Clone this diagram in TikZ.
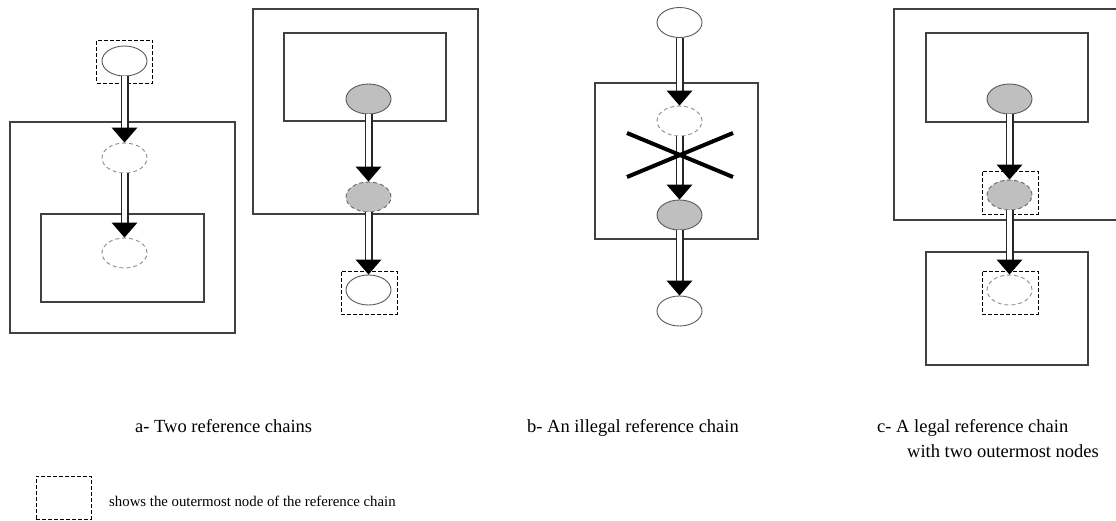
\documentclass[tikz,border=0pt]{standalone}
\usepackage{fontspec}
\setmainfont{Liberation Serif}
\usetikzlibrary{shapes.geometric,decorations.markings}

\begin{document}
\begin{tikzpicture}[x=1pt,y=-1pt,
  every node/.style={inner sep=0pt},
  frame/.style={draw=black!75, line width=1.3pt},
  obj/.style={ellipse, draw=black!65, line width=0.9pt, fill=white,
    minimum width=45pt, minimum height=30pt},
  ghost/.style={obj, draw=black!45, dash pattern=on 4pt off 3pt},
  shared/.style={obj, fill=black!25},
  sharedghost/.style={shared, draw=black!60, dash pattern=on 4pt off 3pt},
  outer/.style={rectangle, draw=black, line width=0.9pt, dash pattern=on 4pt off 2pt,
    minimum width=56pt, minimum height=43pt},
  ref/.style={draw=black!85, line width=1.1pt, double distance=5.8pt, shorten >=10pt,
    postaction={decorate},
    decoration={markings, mark=at position 1 with
      {\fill[black] (0,0) -- (-15pt,13pt) -- (-15pt,-13pt) -- cycle;}}},
  captext/.style={anchor=base west, font=\fontsize{18.5}{22}\selectfont},
  keytext/.style={anchor=base west, font=\fontsize{14.8}{18}\selectfont}
]
\useasboundingbox (0,0) rectangle (1116,520);

% ---------- a- two reference chains ----------
% first chain
\draw[frame] (10,122) rectangle (235,333);
\draw[frame] (41,214) rectangle (204,302);
\node[outer] (oa1) at (124.5,61.5) {};
\node[obj]   (a1) at (124.5,61) {};
\node[ghost] (a2) at (124.5,158) {};
\node[ghost] (a3) at (124.5,253) {};
\draw[ref] (a1.south) -- (a2.north);
\draw[ref] (a2.south) -- (a3.north);

% second chain
\draw[frame] (253,9) rectangle (478,214);
\draw[frame] (284,33) rectangle (446,121);
\node[shared]      (b1) at (368.5,99) {};
\node[sharedghost] (b2) at (368.5,197) {};
\node[outer]       (ob3) at (369,292.5) {};
\node[obj]         (b3) at (368.5,290) {};
\draw[ref] (b1.south) -- (b2.north);
\draw[ref] (b2.south) -- (b3.north);

% ---------- b- an illegal reference chain ----------
\draw[frame] (595,83) rectangle (758,239);
\node[obj]    (c1) at (679.5,22.5) {};
\node[ghost]  (c2) at (679.5,121) {};
\node[shared] (c3) at (679.5,215) {};
\node[obj]    (c4) at (679.5,311) {};
\draw[ref] (c1.south) -- (c2.north);
\draw[ref] (c2.south) -- (c3.north);
\draw[ref] (c3.south) -- (c4.north);
\draw[line width=4pt] (627,133) -- (733,177);
\draw[line width=4pt] (627,177) -- (733,133);

% ---------- c- a legal reference chain ----------
\draw[frame] (1117,9) -- (894,9) -- (894,220) -- (1117,220);
\draw[frame] (926,33) rectangle (1088,122);
\draw[frame] (926,252) rectangle (1088,365);
\node[shared]      (d1) at (1009.5,99) {};
\node[outer]       (od2) at (1010,192.5) {};
\node[sharedghost] (d2) at (1009.5,195) {};
\node[outer]       (od3) at (1010,292.5) {};
\node[ghost]       (d3) at (1009.5,290) {};
\draw[ref] (d1.south) -- (d2.north);
\draw[ref] (d2.south) -- (d3.north);

% ---------- captions ----------
\node[captext] (capa) at (135,432) {a- Two reference chains};
\node[captext] (capb) at (527,432) {b- An illegal reference chain};
\node[captext] (capc) at (877,432) {c- A legal reference chain};
\node[captext] (capc2) at (907,457) {with two outermost nodes};

% ---------- key ----------
\node[outer, minimum width=55pt, minimum height=43pt] (key) at (63.5,497.5) {};
\node[keytext] (keylabel) at (109,506) {shows the outermost node of the reference chain};
\end{tikzpicture}
\end{document}
